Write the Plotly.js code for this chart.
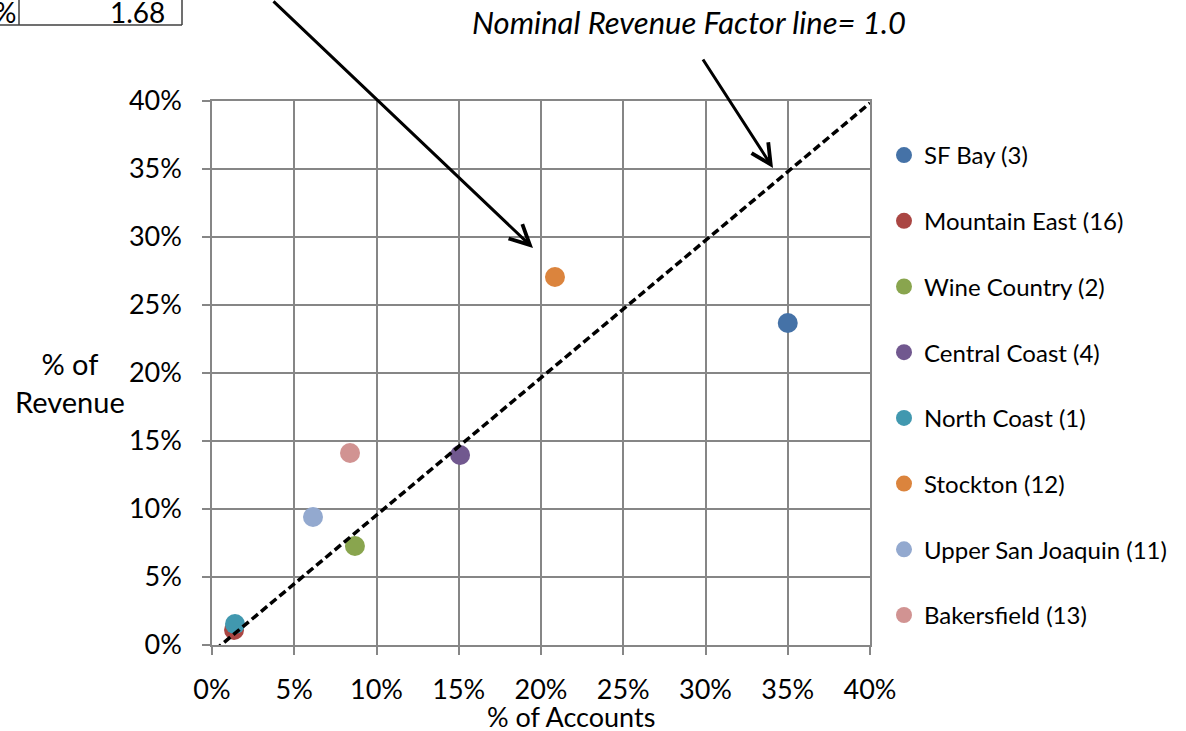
<!DOCTYPE html>
<html>
<head>
<meta charset="utf-8">
<script src="https://cdn.plot.ly/plotly-3.0.1.min.js"></script>
<style>
html,body{margin:0;padding:0;background:#fff;}
#chart{width:1186px;height:731px;}
</style>
</head>
<body>
<div id="chart"></div>
<script>
// ---- data ----
var regions = ['SF Bay (3)', 'Mountain East (16)', 'Wine Country (2)', 'Central Coast (4)',
               'North Coast (1)', 'Stockton (12)', 'Upper San Joaquin (11)', 'Bakersfield (13)'];
var pctAccounts = [0.350, 0.0134, 0.0869, 0.1508, 0.0140, 0.2085, 0.0614, 0.0839];
var pctRevenue  = [0.2368, 0.0110, 0.0728, 0.1397, 0.0154, 0.2706, 0.0941, 0.1412];
var regionColors = ['#4572A7', '#AA4643', '#89A54E', '#71588F', '#4198AF', '#DB843D', '#93A9CF', '#D19392'];
var nominalLineX = [0.0018, 0.40];
var nominalLineY = [-0.0037, 0.3985];
var tickValues = [0, 0.05, 0.10, 0.15, 0.20, 0.25, 0.30, 0.35, 0.40];
var tableValue = '1.68';
var tableLeftText = '%';

// ---- layout geometry (pixels) ----
var W = 1186, H = 731;
var L = 212, R = 870, T = 101, B = 645;
function px(x){ return (x - L) / (R - L); }
function py(y){ return (B - y) / (B - T); }

var FONT = 'Lato, "Open Sans", sans-serif';
var grid = '#868686';

var traces = regions.map(function(name, i){
  return {
    type: 'scatter', mode: 'markers', name: name,
    x: [pctAccounts[i]], y: [pctRevenue[i]],
    marker: {color: regionColors[i], size: 20, line: {width: 0}},
    legendgroup: 'g' + i,
    hoverinfo: 'x+y+name'
  };
});
traces.push({
  type: 'scatter', mode: 'lines', name: 'Nominal Revenue Factor',
  x: nominalLineX, y: nominalLineY,
  line: {color: '#000', width: 3.5, dash: '8px,4px'},
  showlegend: false, hoverinfo: 'skip'
});

var axisCommon = {
  range: [0, 0.4], tickvals: tickValues, tickformat: '.0%',
  showgrid: true, gridcolor: grid, gridwidth: 1.5,
  showline: true, linecolor: grid, linewidth: 1.5, mirror: true,
  ticks: 'outside', ticklen: 8, tickcolor: grid, tickwidth: 1.5,
  zeroline: false, fixedrange: true,
  tickfont: {family: FONT, size: 27, color: '#000'}
};

var layout = {
  width: W, height: H,
  margin: {l: L, r: W - R, t: T, b: H - B, pad: 0},
  paper_bgcolor: '#fff', plot_bgcolor: '#fff',
  font: {family: FONT, color: '#000'},
  showlegend: true,
  legend: {
    x: px(884), xanchor: 'left', y: py(133), yanchor: 'top',
    font: {family: FONT, size: 24, color: '#000'},
    traceorder: 'grouped', tracegroupgap: 31.5,
    bgcolor: 'rgba(0,0,0,0)', borderwidth: 0
  },
  xaxis: Object.assign({}, axisCommon, {
    ticklabelstandoff: 12
  }),
  yaxis: Object.assign({}, axisCommon, {
    ticklabelstandoff: 15
  }),
  shapes: [
    {type: 'line', xref: 'paper', yref: 'paper', x0: px(19), x1: px(19), y0: py(-5), y1: py(25), line: {color: '#404040', width: 1.5}},
    {type: 'line', xref: 'paper', yref: 'paper', x0: px(182), x1: px(182), y0: py(-5), y1: py(25), line: {color: '#404040', width: 1.5}},
    {type: 'line', xref: 'paper', yref: 'paper', x0: px(-5), x1: px(182), y0: py(25), y1: py(25), line: {color: '#404040', width: 1.5}}
  ],
  annotations: [
    {xref: 'paper', yref: 'paper', x: px(70), y: py(383), xanchor: 'center', yanchor: 'middle',
     text: '% of<br>Revenue', showarrow: false, align: 'center',
     font: {family: FONT, size: 29, color: '#000'}},
    {xref: 'paper', yref: 'paper', x: px(571), y: py(716), xanchor: 'center', yanchor: 'middle',
     text: '% of Accounts', showarrow: false,
     font: {family: FONT, size: 27, color: '#000'}},
    {xref: 'paper', yref: 'paper', x: px(689), y: py(22), xanchor: 'center', yanchor: 'middle',
     text: '<i>Nominal Revenue Factor line= 1.0</i>', showarrow: false,
     font: {family: FONT, size: 31, color: '#000'}},
    {xref: 'paper', yref: 'paper', x: px(167), y: py(12), xanchor: 'right', yanchor: 'middle',
     text: tableValue, showarrow: false, font: {family: FONT, size: 28, color: '#000'}},
    {xref: 'paper', yref: 'paper', x: px(18), y: py(12), xanchor: 'right', yanchor: 'middle',
     text: tableLeftText, showarrow: false, font: {family: FONT, size: 28, color: '#000'}},
    {xref: 'paper', yref: 'paper', x: px(533), y: py(248), axref: 'pixel', ayref: 'pixel',
     ax: -261, ay: -253, text: '', showarrow: true, arrowhead: 5, arrowsize: 1.3, arrowwidth: 3,
     arrowcolor: '#000', standoff: 0},
    {xref: 'paper', yref: 'paper', x: px(773), y: py(168), axref: 'pixel', ayref: 'pixel',
     ax: -71, ay: -110, text: '', showarrow: true, arrowhead: 5, arrowsize: 1.3, arrowwidth: 3,
     arrowcolor: '#000', standoff: 0}
  ]
};

Plotly.newPlot('chart', traces, layout, {displayModeBar: false});
</script>
</body>
</html>
